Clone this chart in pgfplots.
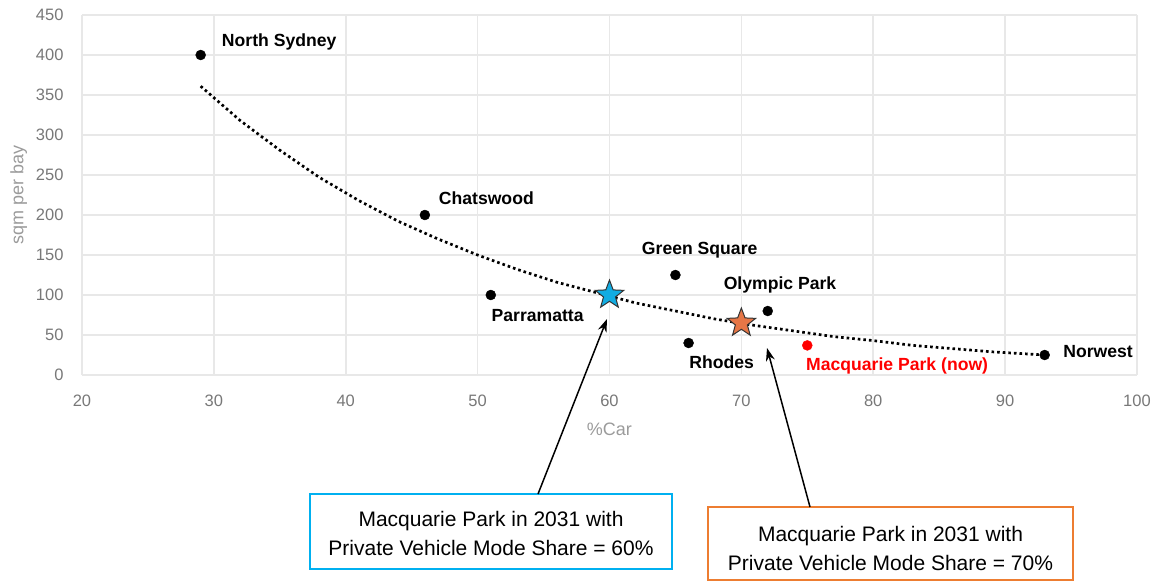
\documentclass[border=0pt]{standalone}
\usepackage{fontspec}
\setmainfont{Liberation Sans}
\usepackage{pgfplots}
\pgfplotsset{compat=1.18}
\usetikzlibrary{arrows.meta}

\definecolor{gridgray}{RGB}{232,232,232}
\definecolor{tickgray}{RGB}{120,120,120}
\definecolor{titlegray}{RGB}{155,155,155}
\definecolor{starblue}{RGB}{18,172,226}
\definecolor{starorange}{RGB}{230,118,70}
\definecolor{boxblue}{RGB}{0,176,240}
\definecolor{boxorange}{RGB}{237,125,49}
\definecolor{nowred}{RGB}{255,0,0}

% filled five-pointed star marker
\pgfdeclareplotmark{fstar}{%
  \pgfpathmoveto{\pgfpointpolar{90}{\pgfplotmarksize}}%
  \pgfpathlineto{\pgfpointpolar{126}{0.42\pgfplotmarksize}}%
  \pgfpathlineto{\pgfpointpolar{162}{\pgfplotmarksize}}%
  \pgfpathlineto{\pgfpointpolar{198}{0.42\pgfplotmarksize}}%
  \pgfpathlineto{\pgfpointpolar{234}{\pgfplotmarksize}}%
  \pgfpathlineto{\pgfpointpolar{270}{0.42\pgfplotmarksize}}%
  \pgfpathlineto{\pgfpointpolar{306}{\pgfplotmarksize}}%
  \pgfpathlineto{\pgfpointpolar{342}{0.42\pgfplotmarksize}}%
  \pgfpathlineto{\pgfpointpolar{18}{\pgfplotmarksize}}%
  \pgfpathlineto{\pgfpointpolar{54}{0.42\pgfplotmarksize}}%
  \pgfpathclose
  \pgfusepathqfillstroke}

\begin{document}
\begin{tikzpicture}
\useasboundingbox (0pt,0pt) rectangle (1155pt,582pt);

\begin{axis}[
  scale only axis,
  width=1055pt, height=360pt,
  at={(82pt,207pt)}, anchor=south west,
  xmin=20, xmax=100, ymin=0, ymax=450,
  xtick={20,30,...,100},
  ytick={0,50,...,450},
  grid=major,
  major grid style={draw=gridgray, line width=1.6pt},
  axis line style={draw=none},
  tick style={draw=none},
  /pgf/number format/assume math mode=true,
  ticklabel style={font=\fontsize{16.5}{18}\selectfont, text=tickgray},
  xticklabel style={yshift=-16pt},
  yticklabel style={xshift=-15pt},
  xlabel={\%Car},
  ylabel={sqm per bay},
  label style={font=\fontsize{18}{20}\selectfont, text=titlegray},
  xlabel style={yshift=-10pt},
  ylabel style={yshift=2pt},
  clip=false,
]

% exponential trend line
\addplot[black, line width=2.7pt, dash pattern=on 2.6pt off 3pt] coordinates {
  (29,361) (32,318) (35,281) (38,247) (41,218) (44,192) (47,170) (50,150)
  (53,132) (56,116) (59,103) (62,90) (65,80) (68,70) (71,62) (74,55)
  (77,48) (80,43) (83,37) (86,33) (89,29) (93,25)
};

% existing centres
\addplot[only marks, mark=*, mark size=5pt, black] coordinates {
  (29,400) (46,200) (51,100) (65,125) (72,80) (66,40) (93,25)
};

% Macquarie Park today
\addplot[only marks, mark=*, mark size=5pt, nowred] coordinates {(75,37)};

% 2031 scenarios
\addplot[only marks, mark=fstar, mark size=15pt, fill=starblue, draw=black!80, line width=1pt] coordinates {(60,100)};
\addplot[only marks, mark=fstar, mark size=15pt, fill=starorange, draw=black!80, line width=1pt] coordinates {(70,65)};

% place names
\begin{scope}[every node/.style={anchor=west, inner sep=0pt, font=\fontsize{17.6}{20}\selectfont\bfseries}]
\node at (axis cs:30.6,416) {North Sydney};
\node at (axis cs:47.05,221) {Chatswood};
\node at (axis cs:51.05,74) {Parramatta};
\node at (axis cs:62.45,156) {Green Square};
\node at (axis cs:68.65,112.5) {Olympic Park};
\node at (axis cs:66.05,16) {Rhodes};
\node[text=nowred] at (axis cs:74.9,11) {Macquarie Park (now)};
\node at (axis cs:94.4,29) {Norwest};
\end{scope}
\end{axis}

% callout boxes
\draw[boxblue, line width=2.5pt] (310pt,13pt) rectangle (672pt,88pt);
\node[font=\fontsize{21}{29}\selectfont, align=center] at (491pt,49pt)
  {Macquarie Park in 2031 with\\Private Vehicle Mode Share = 60\%};
\draw[boxorange, line width=2.5pt] (708pt,2pt) rectangle (1073pt,75pt);
\node[font=\fontsize{21}{29}\selectfont, align=center] at (890.5pt,34pt)
  {Macquarie Park in 2031 with\\Private Vehicle Mode Share = 70\%};

% arrows to the stars
\draw[line width=1.5pt, -{Stealth[length=13pt,width=9pt]}] (538pt,88pt) -- (607pt,263pt);
\draw[line width=1.5pt, -{Stealth[length=13pt,width=9pt]}] (810pt,75pt) -- (767pt,234pt);
\end{tikzpicture}
\end{document}
